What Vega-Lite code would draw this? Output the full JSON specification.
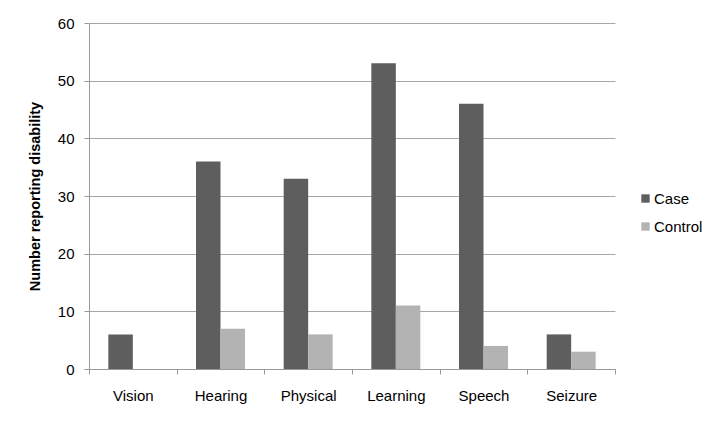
{
  "$schema": "https://vega.github.io/schema/vega-lite/v6.json",
  "width": 526,
  "height": 346,
  "autosize": {"type": "none"},
  "padding": {"left": 89, "top": 23, "right": 111, "bottom": 57},
  "background": "white",
  "config": {
    "view": {"stroke": null},
    "font": "Liberation Sans"
  },
  "data": {
    "values": [
      {"category": "Vision", "group": "Case", "value": 6},
      {"category": "Vision", "group": "Control", "value": 0},
      {"category": "Hearing", "group": "Case", "value": 36},
      {"category": "Hearing", "group": "Control", "value": 7},
      {"category": "Physical", "group": "Case", "value": 33},
      {"category": "Physical", "group": "Control", "value": 6},
      {"category": "Learning", "group": "Case", "value": 53},
      {"category": "Learning", "group": "Control", "value": 11},
      {"category": "Speech", "group": "Case", "value": 46},
      {"category": "Speech", "group": "Control", "value": 4},
      {"category": "Seizure", "group": "Case", "value": 6},
      {"category": "Seizure", "group": "Control", "value": 3}
    ]
  },
  "mark": {"type": "bar"},
  "encoding": {
    "x": {
      "field": "category",
      "type": "nominal",
      "sort": ["Vision", "Hearing", "Physical", "Learning", "Speech", "Seizure"],
      "scale": {"paddingInner": 0, "paddingOuter": 0},
      "axis": {
        "title": null,
        "labelAngle": 0,
        "tickBand": "extent",
        "grid": false,
        "labelFont": "Liberation Sans",
        "labelFontSize": 15,
        "labelColor": "#000000",
        "tickSize": 5,
        "tickColor": "#999999",
        "domainColor": "#999999",
        "labelPadding": 14
      }
    },
    "xOffset": {
      "field": "group",
      "type": "nominal",
      "sort": ["Case", "Control"],
      "scale": {"paddingInner": 0, "paddingOuter": 0.79}
    },
    "y": {
      "field": "value",
      "type": "quantitative",
      "scale": {"domain": [0, 60], "nice": false},
      "axis": {
        "values": [0, 10, 20, 30, 40, 50, 60],
        "title": "Number reporting disability",
        "titleFont": "Liberation Sans",
        "titleFontSize": 14.5,
        "titleFontWeight": "bold",
        "titleColor": "#000000",
        "titlePadding": 15,
        "labelFont": "Liberation Sans",
        "labelFontSize": 15,
        "labelColor": "#000000",
        "labelPadding": 10,
        "tickSize": 5,
        "tickColor": "#999999",
        "domainColor": "#999999",
        "gridColor": "#a6a6a6",
        "gridOpacity": 1
      }
    },
    "color": {
      "field": "group",
      "type": "nominal",
      "scale": {"domain": ["Case", "Control"], "range": ["#5e5e5e", "#b3b3b3"]},
      "legend": {
        "title": null,
        "orient": "none",
        "legendX": 549,
        "legendY": 168,
        "symbolType": "square",
        "symbolSize": 70,
        "symbolStrokeWidth": 0,
        "labelFont": "Liberation Sans",
        "labelFontSize": 15,
        "labelColor": "#000000",
        "labelOffset": 1,
        "rowPadding": 12
      }
    }
  }
}
